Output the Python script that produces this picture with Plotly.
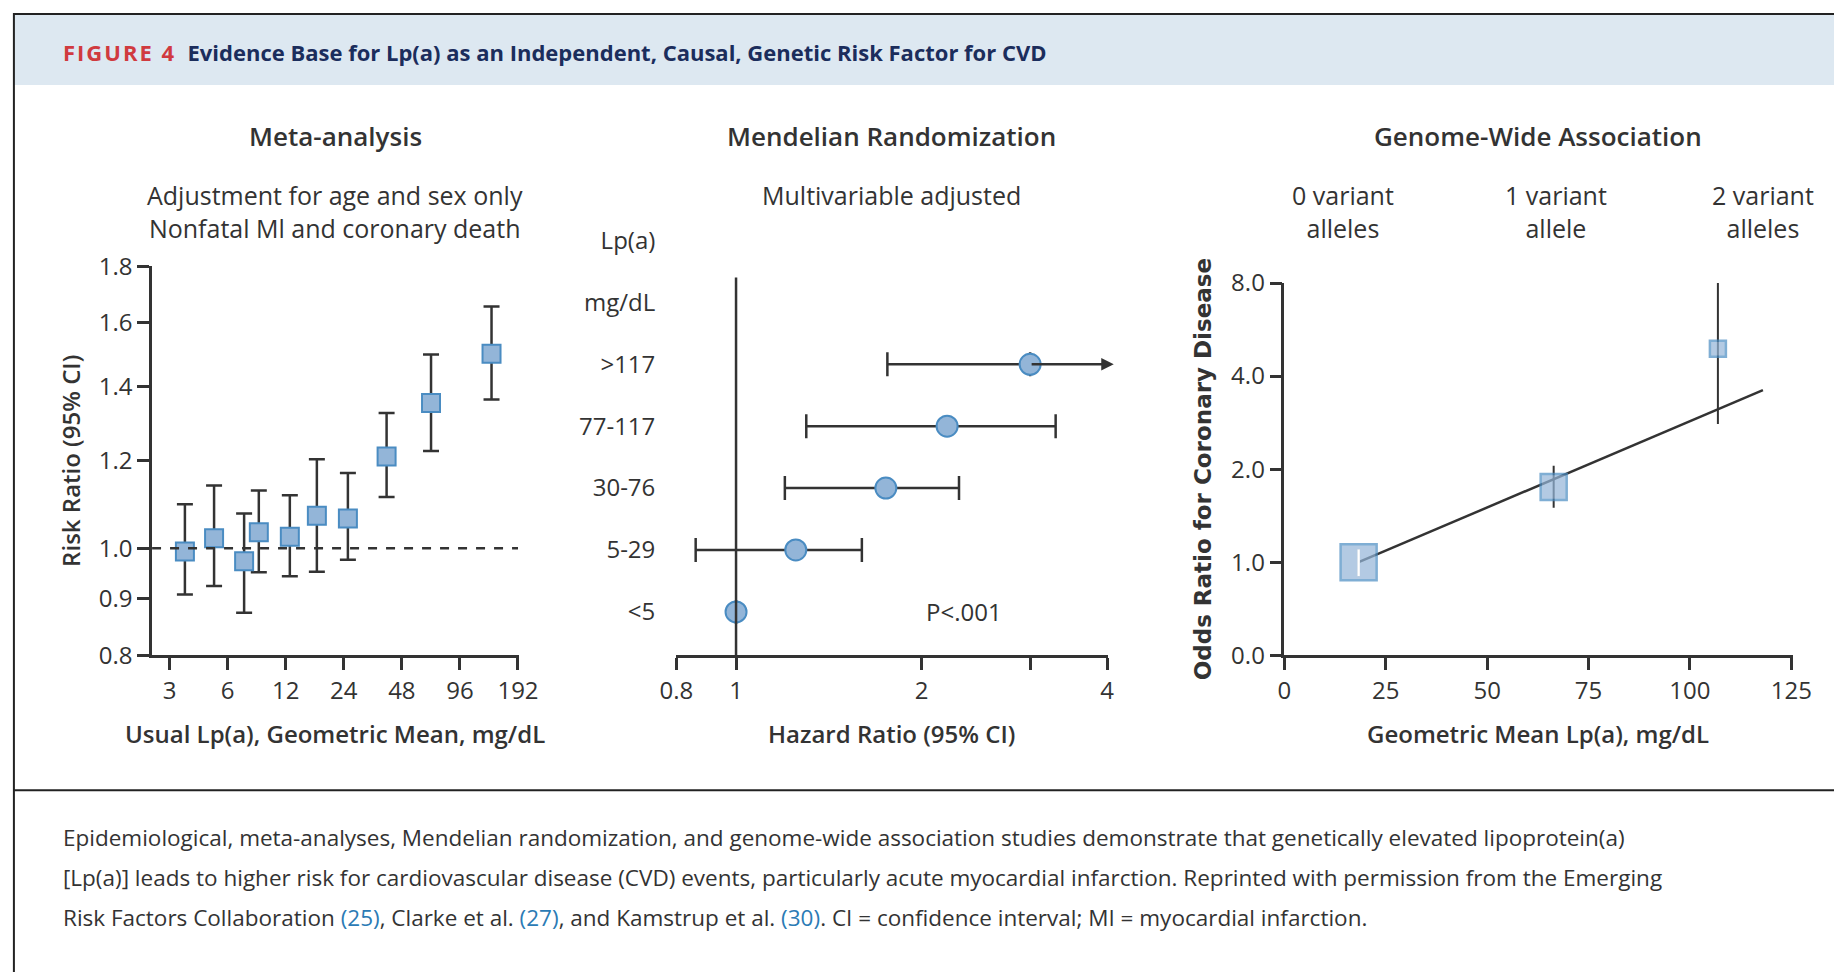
import math
import plotly.graph_objects as go

# ---- data: meta-analysis (left) ----
meta_lpa = [3.6, 5.1, 7.3, 8.7, 12.6, 17.4, 25.2, 40, 68, 140]
meta_rr = [0.993, 1.021, 0.973, 1.034, 1.024, 1.070, 1.064, 1.211, 1.354, 1.500]
meta_hi = [1.096, 1.140, 1.075, 1.128, 1.117, 1.204, 1.170, 1.326, 1.498, 1.656]
meta_lo = [0.908, 0.924, 0.874, 0.951, 0.943, 0.952, 0.976, 1.113, 1.225, 1.364]
meta_xticks = [3, 6, 12, 24, 48, 96, 192]
meta_yticks = [0.8, 0.9, 1.0, 1.2, 1.4, 1.6, 1.8]

# ---- data: Mendelian randomization (middle) ----
mr_groups = ["<5", "5-29", "30-76", "77-117", ">117"]
mr_hr = [1.0, 1.25, 1.75, 2.2, 3.0]
mr_lo = [1.0, 0.86, 1.2, 1.3, 1.76]
mr_hi = [1.0, 1.6, 2.3, 3.3, None]  # >117 upper bound off scale (arrow)
mr_rows = mr_groups + ["mg/dL", "Lp(a)"]
mr_xticks = [0.8, 1, 2, 3, 4]
mr_xticktext = ["0.8", "1", "2", "", "4"]

# ---- data: genome-wide association (right) ----
gw_lpa = [18.3, 66.4, 106.9]
gw_or = [1.0, 1.75, 4.9]
gw_lo = [0.9, 1.5, 2.8]
gw_hi = [1.1, 2.05, 8.6]
gw_size = [36, 26, 16]
gw_line_x = [18.3, 118]
gw_line_y = [1.0, 3.6]
gw_yticks = [0.5, 1, 2, 4, 8]
gw_yticktext = ["0.0", "1.0", "2.0", "4.0", "8.0"]
gw_headers = ["0 variant<br>alleles", "1 variant<br>allele", "2 variant<br>alleles"]
gw_header_x = [14.5, 67, 118]

W, H = 1560.0, 820.0
def px(x): return x / W
def py(y): return 1 - y / H

FONT = "Open Sans"
DARK = "#333333"
FILL = "#93b5d8"
EDGE = "#4a8cc2"

fig = go.Figure()

fig.add_trace(go.Scatter(
    x=meta_lpa, y=meta_rr, mode="markers", xaxis="x", yaxis="y",
    marker=dict(symbol="square", size=18, color=FILL, line=dict(color=EDGE, width=2)),
    error_y=dict(type="data", symmetric=False,
                 array=[h - v for h, v in zip(meta_hi, meta_rr)],
                 arrayminus=[v - l for l, v in zip(meta_lo, meta_rr)],
                 color=DARK, thickness=2.5, width=8),
    showlegend=False))

mr_plus = [(h - v) if h is not None else 0 for h, v in zip(mr_hi, mr_hr)]
mr_minus = [v - l for l, v in zip(mr_lo, mr_hr)]
fig.add_trace(go.Scatter(
    x=mr_hr, y=mr_groups, mode="markers", xaxis="x2", yaxis="y2",
    marker=dict(symbol="circle", size=21, color=FILL, line=dict(color=EDGE, width=2)),
    error_x=dict(type="data", symmetric=False, array=mr_plus, arrayminus=mr_minus,
                 color=DARK, thickness=2.5, width=12),
    showlegend=False))

fig.add_trace(go.Scatter(
    x=gw_line_x, y=gw_line_y, mode="lines", xaxis="x3", yaxis="y3",
    line=dict(color=DARK, width=2.5), showlegend=False))
fig.add_trace(go.Scatter(
    x=gw_lpa, y=gw_or, mode="markers", xaxis="x3", yaxis="y3",
    marker=dict(symbol="square", size=gw_size, color=FILL, line=dict(color=EDGE, width=2.5)),
    error_y=dict(type="data", symmetric=False,
                 array=[h - v for h, v in zip(gw_hi, gw_or)],
                 arrayminus=[v - l for l, v in zip(gw_lo, gw_or)],
                 color=DARK, thickness=2, width=0),
    showlegend=False, cliponaxis=False))

tickfont = dict(family=FONT, size=24, color=DARK)
titlefont = dict(family=FONT, size=24, color=DARK, weight=600)
axcommon = dict(showline=True, linecolor=DARK, linewidth=2.5, ticks="outside",
                tickcolor=DARK, tickwidth=2.5, ticklen=12, showgrid=False,
                zeroline=False, tickfont=tickfont, automargin=False)

fig.update_layout(
    width=1842, height=972, margin=dict(l=0, r=0, t=0, b=0, autoexpand=False),
    paper_bgcolor="white", plot_bgcolor="white",
    font=dict(family=FONT, color=DARK),
    xaxis=dict(domain=[px(122), px(433)], type="log", range=[0.386, 2.29],
               tickvals=meta_xticks, ticktext=[str(v) for v in meta_xticks],
               anchor="y", **axcommon),
    yaxis=dict(domain=[py(546), py(218)], type="log",
               range=[math.log10(0.8), math.log10(1.8)],
               tickvals=meta_yticks, ticktext=["%.1f" % v for v in meta_yticks],
               anchor="x", title=dict(text="Risk Ratio (95% CI)", font=titlefont, standoff=12),
               **axcommon),
    xaxis2=dict(domain=[px(566), px(932)], type="log",
                range=[math.log10(0.8), math.log10(4.02)],
                tickvals=mr_xticks, ticktext=mr_xticktext, anchor="y2", **axcommon),
    yaxis2=dict(domain=[py(546), py(170)], type="category", categoryarray=mr_rows,
                range=[-0.7, 6.5], anchor="x2", showline=False, ticks="", showgrid=False,
                zeroline=False, tickfont=tickfont, ticklabelstandoff=20, automargin=False),
    xaxis3=dict(domain=[px(1081), px(1512)], range=[0, 125.5],
                tickvals=[0, 25, 50, 75, 100, 125], anchor="y3", **axcommon),
    yaxis3=dict(domain=[py(546), py(232)], type="log",
                range=[math.log10(0.5), math.log10(8)],
                tickvals=gw_yticks, ticktext=gw_yticktext, anchor="x3",
                title=dict(text="Odds Ratio for Coronary Disease",
                           font=dict(family="DejaVu Sans", size=23, color=DARK, weight="bold"),
                           standoff=14),
                **axcommon),
)

shapes = [
    dict(type="rect", xref="paper", yref="paper", x0=px(5), x1=px(1555), y0=py(65), y1=py(5),
         fillcolor="#dde8f1", line=dict(width=0), layer="below"),
    dict(type="rect", xref="paper", yref="paper", x0=px(5), x1=px(1555), y0=py(815), y1=py(5),
         line=dict(color="#222222", width=2)),
    dict(type="line", xref="paper", yref="paper", x0=px(5), x1=px(1555), y0=py(660), y1=py(660),
         line=dict(color="#222222", width=2)),
    dict(type="line", xref="x", yref="y", x0=10 ** 0.386, x1=192, y0=1.0, y1=1.0,
         line=dict(color=DARK, width=2.5, dash="dash")),
    dict(type="line", xref="x2", yref="y2", x0=1, x1=1, y0=-0.7, y1=5.4,
         line=dict(color=DARK, width=2.5)),
    dict(type="line", xref="x3", yref="y3", x0=gw_lpa[0], x1=gw_lpa[0], y0=gw_lo[0], y1=gw_hi[0],
         line=dict(color="white", width=2.5)),
]
fig.update_layout(shapes=shapes)

ann = []
def text(x, y, s, size=24, xanchor="center", weight="normal"):
    ann.append(dict(xref="paper", yref="paper", x=px(x), y=py(y), text=s, showarrow=False,
                    xanchor=xanchor, yanchor="middle",
                    font=dict(family=FONT, size=size, color=DARK, weight=weight)))

text(45, 37, "<b><span style='color:#d03a3f;letter-spacing:2px'>FIGURE 4</span></b>  "
     "<b><span style='color:#1b2d5c'>Evidence Base for Lp(a) as an Independent, Causal, "
     "Genetic Risk Factor for CVD</span></b>", size=22, xanchor="left")
text(277, 108, "Meta-analysis", size=26, weight=600)
text(748, 108, "Mendelian Randomization", size=26, weight=600)
text(1296, 108, "Genome-Wide Association", size=26, weight=600)
text(277, 172, "Adjustment for age and sex only<br>Nonfatal Ml and coronary death", size=25)
text(748, 158, "Multivariable adjusted", size=25)
text(277, 612, "Usual Lp(a), Geometric Mean, mg/dL", size=24, weight=600)
text(748, 612, "Hazard Ratio (95% CI)", size=24, weight=600)
text(1296, 612, "Geometric Mean Lp(a), mg/dL", size=24, weight=600)
for h, hx in zip(gw_headers, gw_header_x):
    ann.append(dict(xref="x3", yref="paper", x=hx, y=py(172), text=h, showarrow=False,
                    xanchor="center", yanchor="middle",
                    font=dict(family=FONT, size=25, color=DARK)))
ann.append(dict(xref="x2", yref="y2", x=math.log10(2.34), y="<5", text="P<.001",
                showarrow=False, xanchor="center", font=dict(family=FONT, size=24, color=DARK)))
ann.append(dict(xref="x2", yref="y2", x=math.log10(4.1), y=">117", ax=math.log10(3.0), ay=">117",
                axref="x2", ayref="y2", text="", showarrow=True, arrowhead=2, arrowsize=1,
                arrowwidth=2.5, arrowcolor=DARK))
link = "<span style='color:#2b7bb5'>%s</span>"
cap = ["Epidemiological, meta-analyses, Mendelian randomization, and genome-wide association studies demonstrate that genetically elevated lipoprotein(a)",
       "[Lp(a)] leads to higher risk for cardiovascular disease (CVD) events, particularly acute myocardial infarction. Reprinted with permission from the Emerging",
       "Risk Factors Collaboration " + link % "(25)" + ", Clarke et al. " + link % "(27)" +
       ", and Kamstrup et al. " + link % "(30)" + ". CI = confidence interval; MI = myocardial infarction."]
for i, line in enumerate(cap):
    text(45, 700 + i * 33.5, line, size=22.5, xanchor="left")
fig.update_layout(annotations=ann)

fig.write_html("out.html")
